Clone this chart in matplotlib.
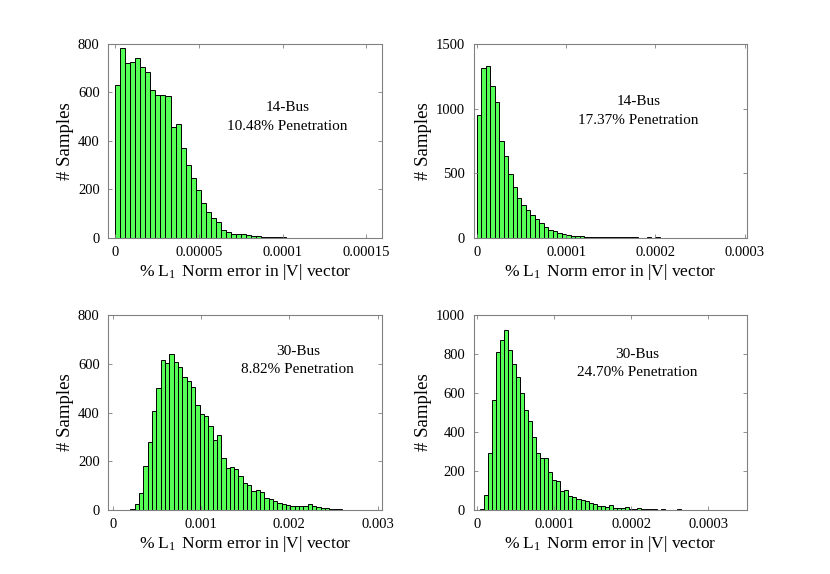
import matplotlib
matplotlib.use("Agg")
import matplotlib.pyplot as plt
import numpy as np

plt.rcParams["font.family"] = ["Liberation Serif", "DejaVu Serif"]
plt.rcParams["mathtext.fontset"] = "custom"
plt.rcParams["mathtext.rm"] = "Liberation Serif"
plt.rcParams["mathtext.it"] = "Liberation Serif:italic"

# 14-bus, 10.48 % penetration
counts_a = [632, 783, 720, 725, 743, 704, 684, 609, 591, 588, 584, 456, 471, 370,
            302, 249, 197, 146, 106, 83, 64, 32, 25, 18, 15, 16, 12, 8, 7, 6, 4, 4,
            3, 2, 1, 1, 1, 0, 1, 1, 0, 1, 0, 0, 1, 0, 0, 1, 0, 1, 0, 1]
start_a, width_a = 0.0, 3.0e-6

# 14-bus, 17.37 % penetration
counts_b = [951, 1311, 1330, 1178, 1050, 751, 632, 498, 394, 312, 255, 216, 178, 145,
            113, 88, 60, 54, 39, 34, 25, 17, 13, 13, 10, 9, 8, 10, 7, 6, 8, 6, 5, 4,
            6, 4, 3, 3, 4, 3, 9, 3, 2, 3, 2, 2, 1, 2, 1, 3, 2, 1, 1, 2, 0, 1, 1, 0,
            1, 1]
start_b, width_b = 0.0, 5.0e-6

# 30-bus, 8.82 % penetration
counts_c = [3, 23, 71, 182, 279, 406, 499, 616, 602, 642, 609, 588, 547, 529, 506,
            431, 393, 386, 345, 286, 306, 214, 174, 177, 170, 140, 112, 103, 78, 81,
            74, 51, 44, 37, 30, 23, 20, 18, 16, 15, 15, 25, 18, 12, 10, 7, 5, 4, 3,
            2, 2, 1, 1, 1, 0, 1, 0]
start_c, width_c = 2.0e-4, 4.9e-5

# 30-bus, 24.70 % penetration
counts_d = [3, 79, 290, 566, 812, 870, 923, 820, 750, 683, 600, 513, 458, 376, 291,
            267, 267, 193, 156, 147, 96, 103, 70, 68, 58, 51, 45, 36, 29, 22, 20, 17,
            24, 12, 10, 8, 14, 5, 5, 10, 5, 4, 3, 3, 2, 7, 2, 2, 1, 3, 1, 1, 2, 1, 0,
            1, 1, 0, 1, 0, 1, 0, 0, 1, 0, 1]
start_d, width_d = 4.0e-6, 5.2e-6

labels = [("14-Bus", "10.48% Penetration"), ("14-Bus", "17.37% Penetration"),
          ("30-Bus", "8.82% Penetration"), ("30-Bus", "24.70% Penetration")]

xticks = [[0, 5e-5, 1e-4, 1.5e-4], [0, 1e-4, 2e-4, 3e-4],
          [0, 1e-3, 2e-3, 3e-3], [0, 1e-4, 2e-4, 3e-4]]
xticklabels = [["0", "0.00005", "0.0001", "0.00015"], ["0", "0.0001", "0.0002", "0.0003"],
               ["0", "0.001", "0.002", "0.003"], ["0", "0.0001", "0.0002", "0.0003"]]
yticks = [[0, 200, 400, 600, 800], [0, 500, 1000, 1500],
          [0, 200, 400, 600, 800], [0, 200, 400, 600, 800, 1000]]

panels = [
    (counts_a, start_a, width_a, (-4.4e-6, 1.595e-4), [0.1301, 0.5854, 0.3301, 0.338], (0.655, 0.675, 0.577)),
    (counts_b, start_b, width_b, (-3.7e-6, 3.02e-4), [0.5705, 0.5854, 0.3290, 0.338], (0.603, 0.703, 0.608)),
    (counts_c, start_c, width_c, (-5.3e-5, 3.05e-3), [0.1301, 0.1115, 0.3301, 0.3397], (0.693, 0.812, 0.718)),
    (counts_d, start_d, width_d, (-4.8e-6, 3.5e-4), [0.5705, 0.1115, 0.3295, 0.3397], (0.597, 0.800, 0.704)),
]

fig = plt.figure(figsize=(8.3, 5.74), dpi=100)

for i, (counts, start, width, xlim, rect, tpos) in enumerate(panels):
    ax = fig.add_axes(rect)
    lefts = start + width * np.arange(len(counts))
    ax.bar(lefts, counts, width=width, align="edge", color="#55ff55",
           edgecolor="black", linewidth=0.7)
    ax.set_xlim(*xlim)
    ax.set_ylim(0, yticks[i][-1])
    ax.set_xticks(xticks[i])
    ax.set_xticklabels(xticklabels[i])
    ax.set_yticks(yticks[i])
    ax.tick_params(direction="in", length=3, width=0.6, color="#808080",
                   top=True, right=True, labelsize=10.5, pad=6)
    for s in ax.spines.values():
        s.set_color("#808080")
        s.set_linewidth(0.8)
    ax.set_xlabel("% L$_1$$\\,$ Norm error in |V| vector", fontsize=12.5, labelpad=2)
    ax.set_ylabel("# Samples", fontsize=13.5, labelpad=3)
    ax.text(tpos[0], tpos[1], labels[i][0], transform=ax.transAxes,
            ha="center", va="center", fontsize=11)
    ax.text(tpos[0], tpos[2], labels[i][1], transform=ax.transAxes,
            ha="center", va="center", fontsize=11)

fig.savefig("out.png", dpi=100)
